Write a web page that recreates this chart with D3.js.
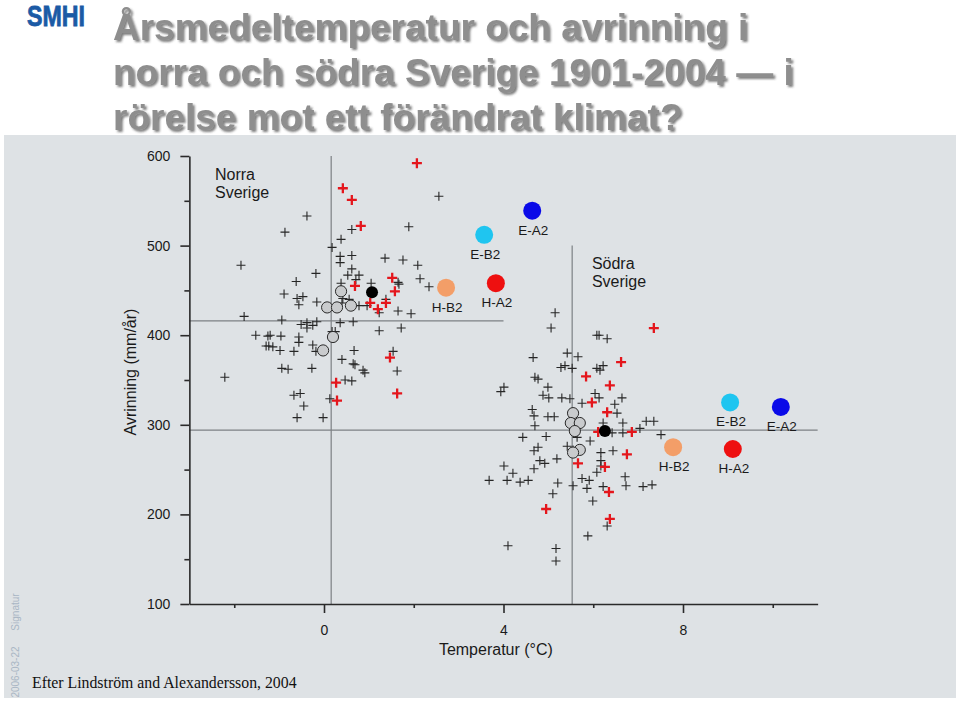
<!DOCTYPE html>
<html>
<head>
<meta charset="utf-8">
<script src="https://cdn.jsdelivr.net/npm/d3@7"></script>
<style>
  html, body { margin: 0; padding: 0; background: #ffffff; }
  svg { display: block; }
</style>
</head>
<body>
<svg id="chart" width="960" height="701"></svg>
<script>
// ---------------- DATA ----------------
const titleLines = [
  "Årsmedeltemperatur och avrinning i",
  "norra och södra Sverige 1901-2004 — i",
  "rörelse mot ett förändrat klimat?"
];
const yTicks = [100, 200, 300, 400, 500, 600];
const yMinorTicks = [150, 250, 350, 450, 550];
const xTicks = [0, 4, 8];
const xMinorTicks = [-2, 2, 6, 10];
const xLabel = "Temperatur (°C)";
const yLabel = "Avrinning (mm/år)";
const regionNames = ["Norra\nSverige", "Södra\nSverige"];
const scenarioNames = ["E-B2", "E-A2", "H-B2", "H-A2"];
const scenarioColors = ["#1fc5f0", "#0a0ae8", "#f39e68", "#ee1010"];

// Norra Sverige: observed yearly values [temp °C, runoff mm/år]
const northYears = [
  [-0.38,533],[-0.87,515],[-1.85,478],[2.56,555],[1.89,521],[0.62,518],[0.38,507],[0.18,498],
  [0.36,488],[0.62,489],[1.36,486],[1.76,484],[2.09,478],[0.36,481],[-0.18,469],[0.62,474],
  [0.53,467],[0.78,467],[0.71,462],[-0.62,460],[2.14,463],[2.34,454],[1.65,459],[1.67,457],
  [1.05,458],[-0.89,446],[-0.60,441],[-0.47,443],[-0.56,434],[-0.16,437],[0.42,441],[0.56,440],
  [0.40,436],[0.78,433],[0.96,433],[1.38,440],[1.65,427],[1.94,424],[1.23,425],[-1.78,421],
  [-0.94,417],[-0.51,412],[-0.38,414],[-0.38,408],[-0.16,415],[-0.25,411],[0.36,414],[0.65,415],
  [1.23,405],[1.72,408],[0.18,404],[0.25,404],[-1.52,400],[-1.20,400],[-1.25,399],[-0.96,399],
  [-0.56,398],[-0.56,392],[-1.29,388],[-1.23,388],[-1.14,387],[-0.98,383],[-0.67,382],[-0.25,389],
  [-0.18,382],[0.67,383],[0.40,373],[0.65,368],[0.69,367],[-0.94,363],[-0.80,362],[-0.27,363],
  [0.87,361],[0.91,358],[-2.21,353],[0.47,350],[0.62,349],[-0.67,333],[-0.53,335],[0.13,329],
  [-0.45,321],[-0.60,308],[-0.02,308],[1.54,382],[1.63,360],[0.38,458]
];
// Norra Sverige: highlighted (red) years
const northRedYears = [
  [2.07,592],[0.42,564],[0.62,551],[0.82,522],[1.52,464],[1.58,449],[0.69,455],
  [1.03,436],[1.20,429],[1.38,436],[1.47,375],[0.27,347],[1.63,335],[0.29,327]
];
// Norra Sverige: control-period model runs (open circles)
const northModels = [[0.38,449],[0.07,431],[0.29,431],[0.60,433],[0.20,398],[-0.02,383]];
// Norra Sverige: recent mean (black dot)
const northRecent = [[1.07,448]];
// Norra Sverige: scenarios in order E-B2, E-A2, H-B2, H-A2
const northScenarioTemp = [3.57, 4.64, 2.72, 3.83];
const northScenarioRunoff = [512, 539, 453, 458];
// Norra Sverige: 1901-2004 mean reference
const northMean = { temp: 0.16, runoff: 416, tempEnd: 4, runoffTop: 600 };

// Södra Sverige
const southYears = [
  [5.15,425],[5.06,408],[6.08,400],[6.13,400],[6.31,396],[5.42,380],[5.66,376],[4.66,375],
  [5.28,364],[5.37,366],[5.53,363],[6.08,363],[6.15,361],[6.22,366],[4.70,353],[4.77,351],
  [4.01,342],[3.94,337],[4.99,342],[4.88,333],[5.01,330],[5.30,330],[5.48,329],[6.04,335],
  [6.13,330],[6.64,330],[6.48,323],[5.75,324],[6.53,313],[4.64,317],[4.68,310],[4.99,309],
  [5.13,309],[4.70,299],[6.22,302],[6.66,302],[7.18,304],[7.35,304],[7.04,296],[6.66,291],
  [6.42,291],[4.43,286],[4.95,287],[5.64,286],[5.93,282],[7.51,289],[4.77,275],[4.68,271],
  [5.42,276],[5.55,272],[6.17,269],[6.44,271],[5.19,262],[4.81,260],[4.92,257],[6.17,260],
  [4.01,254],[4.68,251],[6.17,254],[6.08,247],[4.21,246],[3.68,238],[4.08,238],[4.37,236],
  [4.55,238],[5.21,235],[5.75,240],[5.91,238],[6.71,242],[5.55,232],[5.86,229],[6.22,231],
  [6.73,232],[7.11,231],[7.31,233],[5.10,223],[5.99,215],[6.31,187],[5.88,176],[4.10,165],
  [5.17,162],[5.17,148]
];
const southRedYears = [
  [7.35,408],[6.62,370],[5.84,354],[6.37,344],[5.97,325],[6.31,314],[6.11,292],
  [6.86,292],[6.75,267],[5.66,257],[6.26,253],[6.35,225],[4.95,206],[6.37,195]
];
const southModels = [[5.55,313],[5.50,302],[5.70,302],[5.59,293],[5.70,272],[5.55,269]];
const southRecent = [[6.26,293]];
const southScenarioTemp = [9.05, 10.18, 7.78, 9.11];
const southScenarioRunoff = [325, 320, 275, 273];
const southMean = { temp: 5.53, runoff: 294, tempEnd: 11, runoffTop: 500 };

// ---------------- DRAWING ----------------
const SANS = "\"Liberation Sans\", Arial, sans-serif";
const SERIF = "\"Liberation Serif\", \"Times New Roman\", serif";
const svg = d3.select("#chart").style("font-family", SANS);

const defs = svg.append("defs");
const f = defs.append("filter").attr("id", "shadow").attr("x", "-5%").attr("y", "-20%")
  .attr("width", "115%").attr("height", "150%");
f.append("feDropShadow").attr("dx", 2).attr("dy", 2).attr("stdDeviation", 1)
  .attr("flood-color", "#3a3a3a").attr("flood-opacity", 0.65);

// page background panel
svg.append("rect").attr("x", 0).attr("y", 0).attr("width", 960).attr("height", 701).attr("fill", "#ffffff");
svg.append("rect").attr("x", 4).attr("y", 135).attr("width", 952).attr("height", 563).attr("fill", "#dee2e5");

// SMHI logo
svg.append("text").attr("x", 27).attr("y", 26)
  .attr("font-size", 29).attr("font-weight", "bold").attr("fill", "#1b5aa5")
  .attr("stroke", "#1b5aa5").attr("stroke-width", 0.8)
  .attr("textLength", 58).attr("lengthAdjust", "spacingAndGlyphs")
  .text("SMHI");

// Title with shadow
const title = svg.append("g").attr("filter", "url(#shadow)");
titleLines.forEach((line, i) => {
  title.append("text").attr("x", 113).attr("y", 40 + i * 45)
    .attr("font-size", 37).attr("font-weight", "bold").attr("fill", "#8e8e8e")
    .text(line);
});

// scales
const x = d3.scaleLinear().domain([-3, 11]).range([324 - 3 * 44.875, 324 + 11 * 44.875]);
const y = d3.scaleLinear().domain([100, 600]).range([604, 156]);

// reference lines
[northMean, southMean].forEach(m => {
  svg.append("line").attr("x1", x(-3)).attr("x2", x(m.tempEnd))
    .attr("y1", y(m.runoff)).attr("y2", y(m.runoff))
    .attr("stroke", "#7c8084").attr("stroke-width", 1.2);
  svg.append("line").attr("x1", x(m.temp)).attr("x2", x(m.temp))
    .attr("y1", y(100)).attr("y2", y(m.runoffTop))
    .attr("stroke", "#7c8084").attr("stroke-width", 1.2);
});

// axes
const axisColor = "#2a2a2a";
const yAxis = svg.append("g").attr("transform", `translate(${x(-3)},0)`)
  .call(d3.axisLeft(y).tickValues(yTicks).tickSize(9).tickSizeOuter(0).tickPadding(10));
const yMinor = svg.append("g").attr("transform", `translate(${x(-3)},0)`)
  .call(d3.axisLeft(y).tickValues(yMinorTicks).tickSize(5).tickSizeOuter(0).tickFormat(""));
yMinor.select(".domain").remove();
const xAxis = svg.append("g").attr("transform", `translate(0,${y(100)})`)
  .call(d3.axisBottom(x).tickValues(xTicks).tickSize(9).tickSizeOuter(0).tickPadding(12));
const xMinor = svg.append("g").attr("transform", `translate(0,${y(100)})`)
  .call(d3.axisBottom(x).tickValues(xMinorTicks).tickSize(4).tickSizeOuter(0).tickFormat(""));
xMinor.select(".domain").remove();
[yAxis, yMinor, xAxis, xMinor].forEach(g => {
  g.selectAll(".domain").attr("stroke", axisColor).attr("stroke-width", 1.6);
  g.selectAll(".tick line").attr("stroke", axisColor).attr("stroke-width", 1.6);
  g.selectAll(".tick text").attr("fill", "#1a1a1a").attr("font-size", 14)
    .attr("font-family", SANS);
});

// axis labels
svg.append("text").attr("transform", `translate(136,${(y(600) + y(100)) / 2 - 8}) rotate(-90)`)
  .attr("text-anchor", "middle").attr("font-size", 16).attr("fill", "#1a1a1a").text(yLabel);
svg.append("text").attr("x", x(3.83)).attr("y", 655)
  .attr("text-anchor", "middle").attr("font-size", 16).attr("fill", "#1a1a1a").text(xLabel);

// region labels
const regionPos = [[x(-2.43), y(573)], [x(5.97), y(474)]];
regionNames.forEach((name, i) => {
  const t = svg.append("text").attr("x", regionPos[i][0]).attr("y", regionPos[i][1])
    .attr("font-size", 16).attr("fill", "#1a1a1a");
  name.split("\n").forEach((part, j) => {
    t.append("tspan").attr("x", regionPos[i][0]).attr("dy", j === 0 ? 0 : 18).text(part);
  });
});

// crosses
const crossPath = s => `M${-s},0H${s}M0,${-s}V${s}`;
function drawCrosses(data, color, size, width) {
  svg.append("g").selectAll("path").data(data).join("path")
    .attr("transform", d => `translate(${x(d[0])},${y(d[1])})`)
    .attr("d", crossPath(size))
    .attr("stroke", color).attr("stroke-width", width).attr("fill", "none");
}
drawCrosses(northYears, "#262626", 4.5, 1.1);
drawCrosses(southYears, "#262626", 4.5, 1.1);

function drawModels(data) {
  svg.append("g").selectAll("circle").data(data).join("circle")
    .attr("cx", d => x(d[0])).attr("cy", d => y(d[1])).attr("r", 5.6)
    .attr("fill", "#c9cbcd").attr("stroke", "#2a2a2a").attr("stroke-width", 1);
}
drawModels(northModels);
drawModels(southModels);

drawCrosses(northRedYears, "#e4161c", 5, 2.3);
drawCrosses(southRedYears, "#e4161c", 5, 2.3);

function drawRecent(data) {
  svg.append("g").selectAll("circle").data(data).join("circle")
    .attr("cx", d => x(d[0])).attr("cy", d => y(d[1])).attr("r", 6)
    .attr("fill", "#000000");
}
drawRecent(northRecent);
drawRecent(southRecent);

// scenarios
function drawScenarios(temps, runoffs) {
  const g = svg.append("g");
  scenarioNames.forEach((name, i) => {
    g.append("circle").attr("cx", x(temps[i])).attr("cy", y(runoffs[i])).attr("r", 9)
      .attr("fill", scenarioColors[i]);
    g.append("text").attr("x", x(temps[i]) + 1).attr("y", y(runoffs[i]) + 24)
      .attr("text-anchor", "middle").attr("font-size", 13.5).attr("fill", "#1a1a1a").text(name);
  });
}
drawScenarios(northScenarioTemp, northScenarioRunoff);
drawScenarios(southScenarioTemp, southScenarioRunoff);

// footer
svg.append("text").attr("x", 32).attr("y", 688)
  .style("font-family", SERIF)
  .attr("font-size", 15.8).attr("fill", "#111").text("Efter Lindström and Alexandersson, 2004");
svg.append("text").attr("transform", "translate(19,612) rotate(-90)")
  .attr("text-anchor", "middle").attr("font-size", 10).attr("fill", "#a9b6c4").text("Signatur");
svg.append("text").attr("transform", "translate(19,672) rotate(-90)")
  .attr("text-anchor", "middle").attr("font-size", 10).attr("fill", "#a9b6c4").text("2006-03-22");
</script>
</body>
</html>
